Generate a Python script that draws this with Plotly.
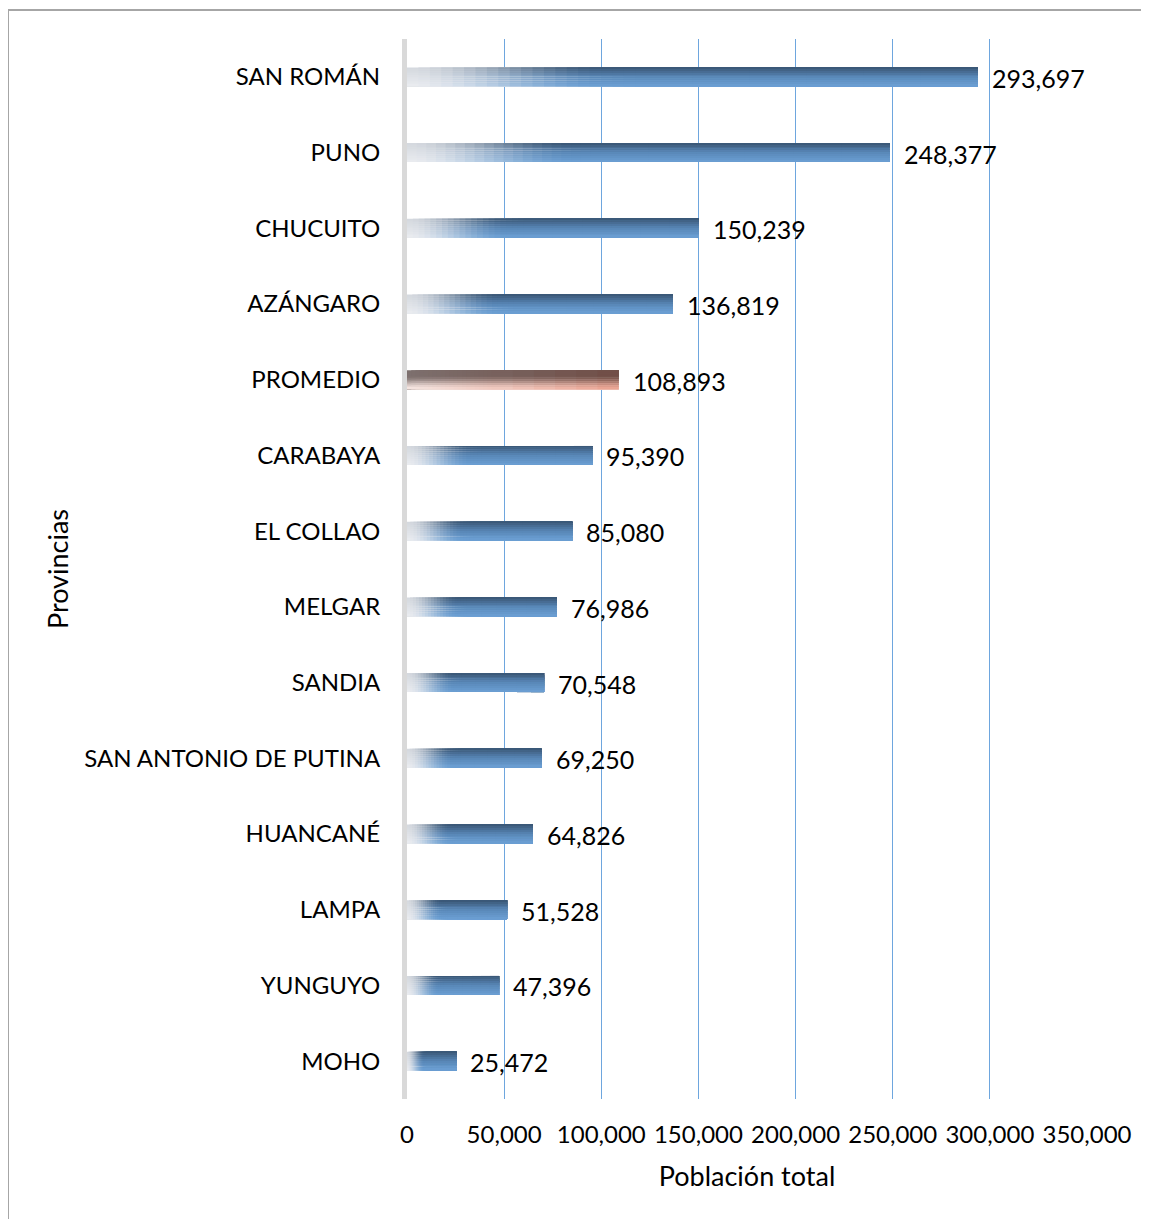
import plotly.graph_objects as go

provincias = ["SAN ROMÁN", "PUNO", "CHUCUITO", "AZÁNGARO", "PROMEDIO", "CARABAYA",
              "EL COLLAO", "MELGAR", "SANDIA", "SAN ANTONIO DE PUTINA", "HUANCANÉ",
              "LAMPA", "YUNGUYO", "MOHO"]
poblacion = [293697, 248377, 150239, 136819, 108893, 95390, 85080, 76986, 70548,
             69250, 64826, 51528, 47396, 25472]
x_ticks = [0, 50000, 100000, 150000, 200000, 250000, 300000, 350000]
x_ticklabels = ["0", "50,000", "100,000", "150,000", "200,000", "250,000", "300,000", "350,000"]

PAGE_OFF = 8  # browser body margin
W, H = 1149 - PAGE_OFF, 1219 - PAGE_OFF
L, R, T, B = 407 - PAGE_OFF, 62, 39 - PAGE_OFF, 120
FONT = "Lato"
BAR_W = 0.25


def lerp(a, b, t):
    t = max(0.0, min(1.0, t))
    return tuple(a[k] + (b[k] - a[k]) * t for k in range(3))


def smooth(t):
    t = max(0.0, min(1.0, t))
    return t * t * (3 - 2 * t)


def blue_color(u, v):
    top, mid, bot = (56, 84, 114), (88, 134, 182), (108, 160, 212)
    col = lerp(top, mid, v / 0.5) if v < 0.5 else lerp(mid, bot, (v - 0.5) / 0.5)
    gtop, gbot = (212, 216, 222), (234, 236, 240)
    gray = lerp(gtop, gbot, v)
    w = smooth(u / 0.34)
    return lerp(gray, col, w)


def prom_color(u, v):
    ltop, lbot = (125, 112, 110), (246, 230, 226)
    rtop, rbot = (112, 76, 68), (234, 160, 142)
    top = lerp(ltop, rtop, u)
    bot = lerp(lbot, rbot, u)
    return lerp(top, bot, smooth((v - 0.3) / 0.7))


def rgb(c):
    return "rgb(%d,%d,%d)" % tuple(int(round(x)) for x in c)


fs_h = [0.4 * i / 20 for i in range(20)] + [0.4 + 0.6 * i / 6 for i in range(6)]
M = 10
vs = [j / M for j in range(M)]

fig = go.Figure()
for v in vs:
    for f in fs_h:
        colors = []
        for name in provincias:
            uc = f + 0.01
            vc = v + 0.5 / M
            colors.append(rgb(prom_color(uc, vc) if name == "PROMEDIO" else blue_color(uc, vc)))
        fig.add_trace(go.Bar(
            y=provincias,
            x=[p * (1 - f) for p in poblacion],
            base=[p * f for p in poblacion],
            orientation="h",
            width=BAR_W * (1 - v),
            offset=-BAR_W / 2 + BAR_W * v,
            marker=dict(color=colors, line=dict(width=0)),
            showlegend=False,
            hoverinfo="skip",
        ))

for name, p in zip(provincias, poblacion):
    fig.add_annotation(x=p, y=name, text=f"{p:,}", showarrow=False, xanchor="left",
                       yanchor="middle", xshift=12, yshift=-1,
                       font=dict(family=FONT, size=25, color="black"))

plot_w = W - L - R
plot_h = H - T - B
fig.add_shape(type="rect", xref="paper", yref="paper",
              x0=(8 - PAGE_OFF - L) / plot_w, x1=(W + 20 - L) / plot_w,
              y0=-(B + 20) / plot_h, y1=((H - B) - (10 - PAGE_OFF)) / plot_h,
              line=dict(color="#a6a6a6", width=2), layer="below")

fig.update_layout(
    width=W, height=H,
    margin=dict(l=L, r=R, t=T, b=B, autoexpand=False),
    paper_bgcolor="white", plot_bgcolor="white",
    barmode="overlay",
    font=dict(family=FONT, size=24, color="black"),
    xaxis=dict(
        range=[0, 350000], tickvals=x_ticks, ticktext=x_ticklabels,
        showgrid=True, gridcolor="#6ea6de", gridwidth=1.4, zeroline=False,
        showline=False, ticks="", ticklabelstandoff=19,
        title=dict(text="Población total", standoff=20, font=dict(size=27)),
        tickfont=dict(size=24),
    ),
    yaxis=dict(
        autorange="reversed", categoryorder="array", categoryarray=provincias,
        showgrid=False, zeroline=False, showline=True, linecolor="#d9d9d9",
        linewidth=5, ticks="", ticklabelstandoff=17, layer="above traces",
        title=dict(text="Provincias", standoff=9, font=dict(size=27)),
        tickfont=dict(size=24),
    ),
)

fig.write_html("out.html")
